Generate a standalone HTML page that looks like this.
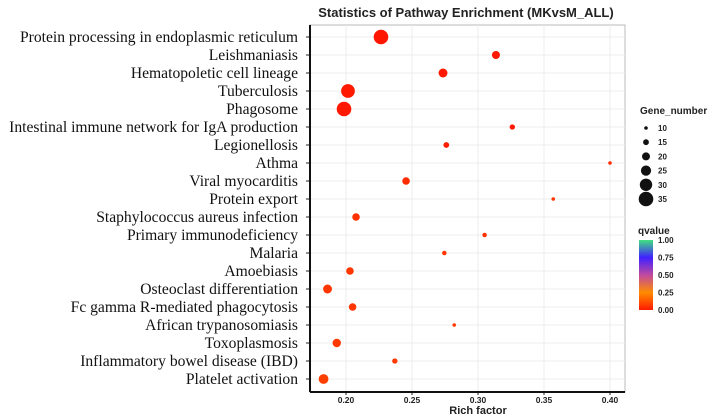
<!DOCTYPE html>
<html><head><meta charset="utf-8"><style>
body{margin:0;background:#fff;width:711px;height:417px;overflow:hidden}
svg{display:block}
.lab{font-family:"Liberation Serif",serif;font-size:15.6px;fill:#111}
.sans{font-family:"Liberation Sans",sans-serif;font-weight:bold;fill:#222}
</style></head><body>
<svg id="chart" width="711" height="417">
<defs><linearGradient id="qg" x1="0" y1="1" x2="0" y2="0">
<stop offset="0" stop-color="#ff1a00"/><stop offset="0.25" stop-color="#ff8c00"/>
<stop offset="0.5" stop-color="#c04aa0"/><stop offset="0.75" stop-color="#4020ff"/>
<stop offset="1" stop-color="#40e080"/></linearGradient></defs>
<text class="sans" x="466" y="17" font-size="13" text-anchor="middle">Statistics of Pathway Enrichment (MKvsM_ALL)</text>
<g id="grid"></g><g id="dots"></g><g id="axes"></g>
<text class="sans" x="478" y="414" font-size="11" text-anchor="middle">Rich factor</text>
<g id="legend"></g>
</svg>
<script>
const categories=["Protein processing in endoplasmic reticulum","Leishmaniasis","Hematopoletic cell lineage","Tuberculosis","Phagosome","Intestinal immune network for IgA production","Legionellosis","Athma","Viral myocarditis","Protein export","Staphylococcus aureus infection","Primary immunodeficiency","Malaria","Amoebiasis","Osteoclast differentiation","Fc gamma R-mediated phagocytosis","African trypanosomiasis","Toxoplasmosis","Inflammatory bowel disease (IBD)","Platelet activation"];
const richFactor=[0.2265,0.3136,0.2735,0.2015,0.1985,0.326,0.276,0.400,0.2455,0.357,0.2076,0.305,0.2745,0.203,0.186,0.205,0.282,0.193,0.237,0.183];
const geneNumber=[35,20,22,33,35,14,15,10,19,10,19,12,12,19,22,19,10,21,14,24];
const qvalue=[0.005,0.01,0.01,0.01,0.01,0.01,0.02,0.05,0.05,0.07,0.06,0.06,0.07,0.07,0.07,0.07,0.08,0.08,0.08,0.09];
const xTicks=[0.20,0.25,0.30,0.35,0.40];
const sizeTicks=[10,15,20,25,30,35];
const qTicks=[1.00,0.75,0.50,0.25,0.00];
const NS="http://www.w3.org/2000/svg";
const L=310,R=625,T=25,B=392;
const xs=v=>346+(v-0.20)/0.05*66;
const ys=i=>37+i*18;
const rs=g=>1.8+(g-10)*0.22;
function col(q){const st=[[0,[255,20,0]],[0.25,[255,140,0]],[0.5,[192,74,160]],[0.75,[64,32,255]],[1,[64,224,128]]];
for(let k=0;k<4;k++){const a=st[k],b=st[k+1];if(q<=b[0]){const t=(q-a[0])/(b[0]-a[0]);return `rgb(${a[1].map((c,j)=>Math.round(c+(b[1][j]-c)*t)).join(',')})`;}}return 'rgb(64,224,128)';}
function mk(tag,at,parent){const e=document.createElementNS(NS,tag);for(const k in at)e.setAttribute(k,at[k]);parent.appendChild(e);return e;}
const grid=document.getElementById('grid'),dots=document.getElementById('dots'),axes=document.getElementById('axes'),leg=document.getElementById('legend');
mk('rect',{x:L,y:T,width:R-L,height:B-T,fill:'#fff',stroke:'#bbb'},grid);
xTicks.forEach(t=>{const l=mk('line',{x1:xs(t),x2:xs(t),y1:T,y2:B,stroke:'#ececec'},grid);

mk('line',{x1:xs(t),x2:xs(t),y1:B,y2:B+3,stroke:'#222'},axes);
const tx=mk('text',{x:xs(t),y:B+11,'text-anchor':'middle','font-size':'8.5',class:'sans'},axes);tx.textContent=t.toFixed(2);
});
categories.forEach((c,i)=>{mk('line',{x1:L,x2:R,y1:ys(i),y2:ys(i),stroke:'#ececec'},grid);
mk('line',{x1:L-4,x2:L,y1:ys(i),y2:ys(i),stroke:'#222'},axes);
const tx=mk('text',{x:298,y:ys(i)+5,'text-anchor':'end',class:'lab'},axes);tx.textContent=c;

const d=mk('circle',{cx:xs(richFactor[i]),cy:ys(i),r:rs(geneNumber[i]),fill:col(qvalue[i])},dots);
});
mk('line',{x1:L,x2:L,y1:T,y2:B,stroke:'#111','stroke-width':2},axes);
mk('line',{x1:L,x2:R,y1:B,y2:B,stroke:'#111','stroke-width':2},axes);
let g=mk('text',{x:640,y:114,'font-size':'10',class:'sans'},leg);g.textContent='Gene_number';

sizeTicks.forEach((s,k)=>{const y=128+k*14.2;const c=mk('circle',{cx:646,cy:y,r:rs(s),fill:'#111'},leg);

const t=mk('text',{x:658,y:y+3,'font-size':'8',class:'sans'},leg);t.textContent=s;});
g=mk('text',{x:638,y:234,'font-size':'10',class:'sans'},leg);g.textContent='qvalue';

const cb=mk('rect',{x:639,y:240,width:14,height:70,fill:'url(#qg)'},leg);

qTicks.forEach(q=>{const t=mk('text',{x:658,y:240+(1-q)*70+3,'font-size':'8',class:'sans'},leg);t.textContent=q.toFixed(2);});
</script>
</body></html>
